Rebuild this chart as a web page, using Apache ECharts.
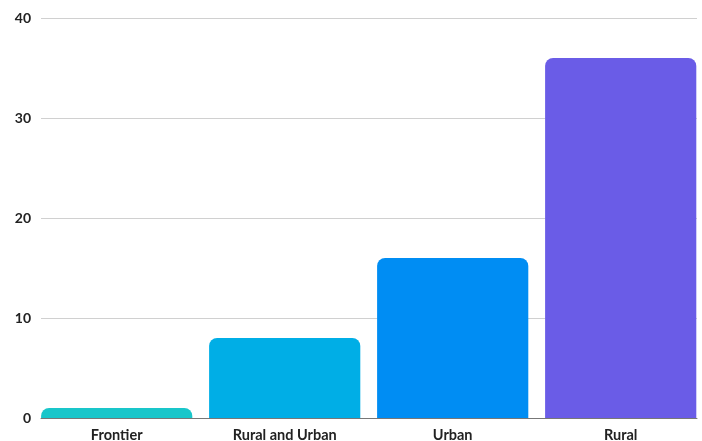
<!DOCTYPE html>
<html><head><meta charset="utf-8">
<script src="https://cdn.jsdelivr.net/npm/echarts@6/dist/echarts.min.js"></script>
<style>html,body{margin:0;padding:0;background:#fff}#c{width:702px;height:441px}</style>
</head><body><div id="c"></div>
<script>
const categories = ['Frontier', 'Rural and Urban', 'Urban', 'Rural'];
const values = [1, 8, 16, 36];
const colors = ['#19C6CA', '#00AEE6', '#008DF3', '#6A5CE7'];
const yTicks = [0, 10, 20, 30, 40];

const chart = echarts.init(document.getElementById('c'));
const font = 'Lato, "Open Sans", sans-serif';
chart.setOption({
  animation: false,
  grid: [
    {left: 41, right: 5, top: 18, bottom: 23, outerBoundsMode: 'none'},
    {left: 32.7, width: 672, top: 18, bottom: 23, outerBoundsMode: 'none'}
  ],
  xAxis: [
    {gridIndex: 0, type: 'category', data: categories,
     axisLine: {lineStyle: {color: '#777', width: 1}}, axisTick: {show: false}, axisLabel: {show: false}},
    {gridIndex: 1, type: 'category', data: categories,
     axisLine: {show: false}, axisTick: {show: false},
     axisLabel: {color: '#222', fontFamily: font, fontWeight: 'bold', fontSize: 14.5, margin: 10}}
  ],
  yAxis: [
    {gridIndex: 0, type: 'value', min: yTicks[0], max: yTicks[yTicks.length-1], interval: 10,
     axisLine: {show: false}, axisTick: {show: false},
     axisLabel: {color: '#222', fontFamily: font, fontWeight: 'bold', fontSize: 14, margin: 10},
     splitLine: {lineStyle: {color: '#d0d0d0', width: 1}}},
    {gridIndex: 1, type: 'value', min: yTicks[0], max: yTicks[yTicks.length-1], interval: 10,
     axisLine: {show: false}, axisTick: {show: false}, axisLabel: {show: false}, splitLine: {show: false}}
  ],
  series: [{
    type: 'bar', xAxisIndex: 1, yAxisIndex: 1,
    barCategoryGap: '10%',
    data: values.map((v, i) => ({value: v, itemStyle: {color: colors[i]}})),
    itemStyle: {borderRadius: [8, 8, 0, 0]}
  }]
});
</script></body></html>
